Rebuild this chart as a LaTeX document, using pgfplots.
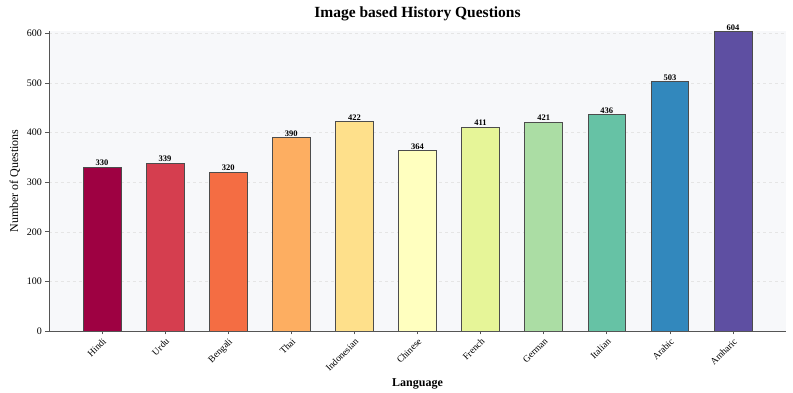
\documentclass[border=0pt]{standalone}
\usepackage{fontspec}
\setmainfont{Liberation Serif}
\usepackage{pgfplots}
\pgfplotsset{compat=1.18}
\definecolor{c0}{HTML}{9E0142}
\definecolor{c1}{HTML}{D53E4F}
\definecolor{c2}{HTML}{F46D43}
\definecolor{c3}{HTML}{FDAE61}
\definecolor{c4}{HTML}{FEE08B}
\definecolor{c5}{HTML}{FFFFBF}
\definecolor{c6}{HTML}{E6F598}
\definecolor{c7}{HTML}{ABDDA4}
\definecolor{c8}{HTML}{66C2A5}
\definecolor{c9}{HTML}{3288BD}
\definecolor{c10}{HTML}{5E4FA2}
\definecolor{bgc}{HTML}{F7F8FA}
\definecolor{axc}{HTML}{555555}
\begin{document}
\begin{tikzpicture}
\begin{axis}[
  name=ax,
  scale only axis,
  width=737pt, height=300pt,
  xmin=-0.84, xmax=10.84, ymin=0, ymax=605,
  ybar, bar width=0.6, bar shift=0pt,
  axis x line*=bottom, axis y line*=left,
  axis line style={axc, line width=0.8pt},
  axis background/.style={fill=bgc},
  ymajorgrids, grid style={dashed, gray!20, line width=0.5pt},
  xtick={0,...,10},
  xticklabels={Hindi,Urdu,Bengali,Thai,Indonesian,Chinese,French,German,Italian,Arabic,Amharic},
  x tick label style={rotate=45, anchor=north east, font=\fontsize{9.5}{9.5}\selectfont, inner sep=2pt},
  ytick={0,100,...,600},
  y tick label style={font=\fontsize{10}{10}\selectfont},
  /pgf/number format/assume math mode=true,
  tick align=outside, major tick length=3.5pt,
  tick style={axc, line width=0.8pt},
  title={\textbf{Image based History Questions}},
  title style={font=\fontsize{15.5}{15.5}\selectfont, yshift=1pt},
  ylabel={Number of Questions},
  ylabel style={font=\fontsize{12}{12}\selectfont},
  xlabel={\textbf{Language}},
  xlabel style={font=\fontsize{12}{12}\selectfont},
  nodes near coords,
  nodes near coords style={font=\bfseries\fontsize{8.5}{8.5}\selectfont, inner sep=1pt, text=black},
  every axis plot/.append style={draw=black!70, line width=0.7pt},
]
\addplot[fill=c0] coordinates {(0,330)};
\addplot[fill=c1] coordinates {(1,339)};
\addplot[fill=c2] coordinates {(2,320)};
\addplot[fill=c3] coordinates {(3,390)};
\addplot[fill=c4] coordinates {(4,422)};
\addplot[fill=c5] coordinates {(5,364)};
\addplot[fill=c6] coordinates {(6,411)};
\addplot[fill=c7] coordinates {(7,421)};
\addplot[fill=c8] coordinates {(8,436)};
\addplot[fill=c9] coordinates {(9,503)};
\addplot[fill=c10] coordinates {(10,604)};
\end{axis}
\pgfresetboundingbox
\path (ax.south west) ++(-49pt,-62pt) rectangle ([xshift=7pt,yshift=31pt]ax.north east);
\end{tikzpicture}
\end{document}
